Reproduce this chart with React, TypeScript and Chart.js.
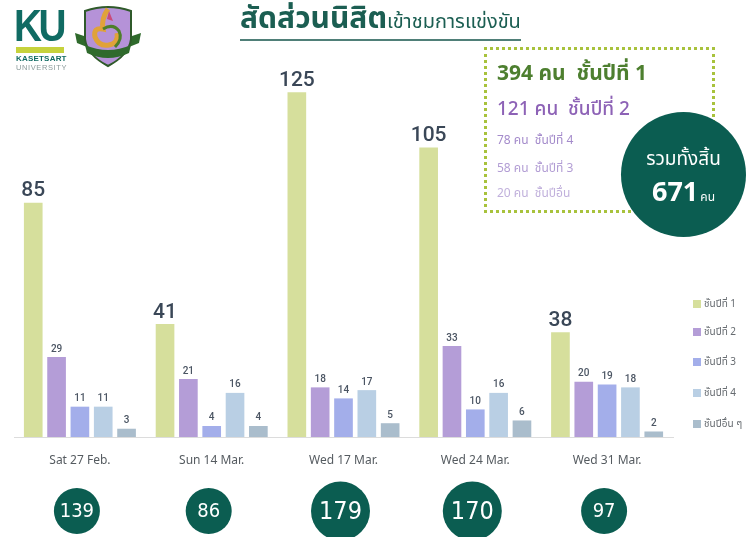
import React, { useEffect, useRef } from "react";
import { Chart, registerables } from "chart.js";

Chart.register(...registerables);

const categories = ["Sat 27 Feb.", "Sun 14 Mar.", "Wed 17 Mar.", "Wed 24 Mar.", "Wed 31 Mar."];
const seriesNames = ["ชั้นปีที่ 1", "ชั้นปีที่ 2", "ชั้นปีที่ 3", "ชั้นปีที่ 4", "ชั้นปีอื่น ๆ"];
const year1 = [85, 41, 125, 105, 38];
const year2 = [29, 21, 18, 33, 20];
const year3 = [11, 4, 14, 10, 19];
const year4 = [11, 16, 17, 16, 18];
const yearOther = [3, 4, 5, 6, 2];

const seriesValues = [year1, year2, year3, year4, yearOther];
const seriesColors = ["#d6df9c", "#b49dd7", "#a3aeea", "#b9cfe4", "#aabdcc"];

const THAI = "'Noto Sans Thai', 'Noto Sans Thai UI', 'Noto Sans', Roboto, sans-serif";
const COND = "'DejaVu Sans Condensed', 'Liberation Sans Narrow', Roboto, sans-serif";
const TEAL = "#0b5d51";

const sum = (a: number[]) => a.reduce((s, v) => s + v, 0);
const groupTotals = categories.map((_, i) => sum(seriesValues.map((s) => s[i])));
const seriesTotals = seriesValues.map(sum);
const grandTotal = sum(seriesTotals);

const valueLabels = {
  id: "valueLabels",
  afterDatasetsDraw(chart: any) {
    const ctx = chart.ctx;
    chart.data.datasets.forEach((ds: any, di: number) => {
      const meta = chart.getDatasetMeta(di);
      meta.data.forEach((bar: any, i: number) => {
        ctx.save();
        ctx.textAlign = "center";
        ctx.textBaseline = "bottom";
        if (di === 0) {
          ctx.font = "500 21px Roboto, sans-serif";
          ctx.fillStyle = "#3a4757";
          ctx.fillText(String(ds.data[i]), bar.x, bar.y - 1);
        } else {
          ctx.font = "500 10px Roboto, sans-serif";
          ctx.fillStyle = "#4b5563";
          ctx.fillText(String(ds.data[i]), bar.x, bar.y - 3);
        }
        ctx.restore();
      });
    });
  },
};

const totalCircles = {
  id: "totalCircles",
  afterDraw(chart: any) {
    const ctx = chart.ctx;
    const xs = chart.scales.x;
    groupTotals.forEach((t, i) => {
      const big = t >= 150;
      const x = xs.getPixelForValue(i) - 3;
      const y = 511;
      const r = big ? 29.5 : 23;
      ctx.save();
      ctx.beginPath();
      ctx.arc(x, y, r, 0, Math.PI * 2);
      ctx.fillStyle = TEAL;
      ctx.fill();
      ctx.fillStyle = "#ffffff";
      ctx.textAlign = "center";
      ctx.textBaseline = "middle";
      ctx.font = `${big ? 25 : 20}px ${COND}`;
      ctx.fillText(String(t), x, y + 1);
      ctx.restore();
    });
  },
};

function BarChart() {
  const ref = useRef<HTMLCanvasElement>(null);
  useEffect(() => {
    if (!ref.current) return;
    const chart = new Chart(ref.current, {
      type: "bar",
      data: {
        labels: categories,
        datasets: seriesValues.map((vals, i) => ({
          label: seriesNames[i],
          data: vals,
          backgroundColor: seriesColors[i],
          borderWidth: 0,
          categoryPercentage: 0.885,
          barPercentage: 0.8,
        })),
      },
      options: {
        animation: false,
        responsive: false,
        maintainAspectRatio: false,
        layout: { padding: { left: 14, right: 75, top: 51, bottom: 0 } },
        plugins: {
          legend: { display: false },
          tooltip: { enabled: false },
        },
        scales: {
          x: {
            grid: { display: false, drawTicks: false },
            border: { display: true, color: "#dcdcdc", width: 1 },
            ticks: {
              color: "#555b60",
              font: { size: 12, family: THAI },
              padding: 17,
            },
            afterFit(scale: any) {
              scale.height = 100;
            },
          },
          y: {
            display: false,
            min: 0,
            max: 140,
          },
        },
      },
      plugins: [valueLabels, totalCircles],
    } as any);
    return () => chart.destroy();
  }, []);
  return (
    <canvas
      ref={ref}
      width={748}
      height={537}
      style={{ position: "absolute", left: 0, top: 0, width: 748, height: 537 }}
    />
  );
}

function Crest() {
  return (
    <svg width={70} height={66} viewBox="0 0 70 66" style={{ position: "absolute", left: 73, top: 3 }}>
      <path d="M2 30 L14 34 L14 44 L4 40 Z" fill="#2f6a2c" />
      <path d="M68 30 L56 34 L56 44 L66 40 Z" fill="#2f6a2c" />
      <path
        d="M12 8 Q35 0 58 8 L58 36 Q56 52 35 63 Q14 52 12 36 Z"
        fill="#b592d8"
        stroke="#2f5a2a"
        strokeWidth={2}
      />
      <path d="M35 6 Q28 16 30 26 Q20 24 22 34 Q26 44 36 42 Q46 40 44 30" fill="none" stroke="#e0a23a" strokeWidth={5} />
      <path d="M30 26 Q40 20 46 28 Q50 36 42 44" fill="none" stroke="#4d7f2a" strokeWidth={3} />
      <path d="M36 8 L40 18 L34 16 Z" fill="#c94a7a" />
      <path d="M12 42 Q35 52 58 42 L56 50 Q35 60 14 50 Z" fill="#2f6a2c" />
    </svg>
  );
}

export default function App() {
  const boxLines = [
    { n: seriesTotals[0], name: "ชั้นปีที่ 1", size: 21, weight: 700, color: "#4d7f2f", top: 60 },
    { n: seriesTotals[1], name: "ชั้นปีที่ 2", size: 19, weight: 500, color: "#8d62b6", top: 97 },
    { n: seriesTotals[3], name: "ชั้นปีที่ 4", size: 12, weight: 400, color: "#a48bcb", top: 132 },
    { n: seriesTotals[2], name: "ชั้นปีที่ 3", size: 12, weight: 400, color: "#b29dd4", top: 160 },
    { n: seriesTotals[4], name: "ชั้นปีอื่น", size: 12, weight: 400, color: "#c1b1dc", top: 185 },
  ];
  const legendTops = [297, 325, 355, 386, 417];
  return (
    <div
      style={{
        position: "fixed",
        left: 0,
        top: 0,
        width: 748,
        height: 537,
        background: "#ffffff",
        overflow: "hidden",
        fontFamily: THAI,
      }}
    >
      <BarChart />

      {/* KU logo */}
      <div
        style={{
          position: "absolute",
          left: 14,
          top: 2,
          fontFamily: "'Liberation Sans', Arial, sans-serif",
          fontWeight: 700,
          fontSize: 44,
          color: "#106b63",
          letterSpacing: -4,
          transform: "scaleX(0.88)",
          transformOrigin: "left top",
          lineHeight: "48px",
        }}
      >
        KU
      </div>
      <div style={{ position: "absolute", left: 16, top: 47, width: 48, height: 6, background: "#c6d23c" }} />
      <div
        style={{
          position: "absolute",
          left: 16,
          top: 54,
          fontFamily: "'Liberation Sans', Arial, sans-serif",
          fontWeight: 700,
          fontSize: 8,
          color: "#106b63",
          lineHeight: "9px",
          letterSpacing: 0.2,
        }}
      >
        KASETSART
      </div>
      <div
        style={{
          position: "absolute",
          left: 16,
          top: 63,
          fontFamily: "'Liberation Sans', Arial, sans-serif",
          fontSize: 7.5,
          color: "#8c9b9b",
          lineHeight: "9px",
          letterSpacing: 0.6,
        }}
      >
        UNIVERSITY
      </div>
      <Crest />

      {/* Title */}
      <div
        style={{
          position: "absolute",
          left: 240,
          top: 0,
          color: "#1b5e52",
          whiteSpace: "nowrap",
          borderBottom: "2px solid #4f7f78",
          lineHeight: "38px",
          height: 39,
        }}
      >
        <span style={{ fontSize: 30, fontWeight: 700 }}>สัดส่วนนิสิต</span>
        <span style={{ fontSize: 20, fontWeight: 400 }}>เข้าชมการแข่งขัน</span>
      </div>

      {/* Summary box */}
      <div
        style={{
          position: "absolute",
          left: 484,
          top: 47,
          width: 231,
          height: 166,
          boxSizing: "border-box",
          border: "3px dotted #a8c23c",
        }}
      />
      {boxLines.map((l, i) => (
        <div
          key={i}
          style={{
            position: "absolute",
            left: 497,
            top: l.top,
            fontSize: l.size,
            fontWeight: l.weight,
            color: l.color,
            whiteSpace: "nowrap",
            lineHeight: `${Math.round(l.size * 1.3)}px`,
          }}
        >
          {l.n} คน&nbsp;&nbsp;{l.name}
        </div>
      ))}

      {/* Grand total circle */}
      <div
        style={{
          position: "absolute",
          left: 621,
          top: 112,
          width: 125,
          height: 125,
          borderRadius: "50%",
          background: TEAL,
          color: "#ffffff",
          textAlign: "center",
        }}
      >
        <div style={{ position: "absolute", left: 0, right: 0, top: 35, fontSize: 19, lineHeight: "26px" }}>
          รวมทั้งสิ้น
        </div>
        <div style={{ position: "absolute", left: 0, right: 0, top: 64, lineHeight: "34px", whiteSpace: "nowrap" }}>
          <span style={{ fontSize: 27, fontWeight: 700 }}>{grandTotal}</span>
          <span style={{ fontSize: 12, marginLeft: 2 }}>คน</span>
        </div>
      </div>

      {/* Legend */}
      {seriesNames.map((name, i) => (
        <div
          key={i}
          style={{
            position: "absolute",
            left: 693,
            top: legendTops[i],
            display: "flex",
            alignItems: "center",
            whiteSpace: "nowrap",
            fontSize: 10,
            color: "#666b70",
            lineHeight: "14px",
          }}
        >
          <span style={{ display: "inline-block", width: 8, height: 8, background: seriesColors[i], marginRight: 3 }} />
          {name}
        </div>
      ))}
    </div>
  );
}
